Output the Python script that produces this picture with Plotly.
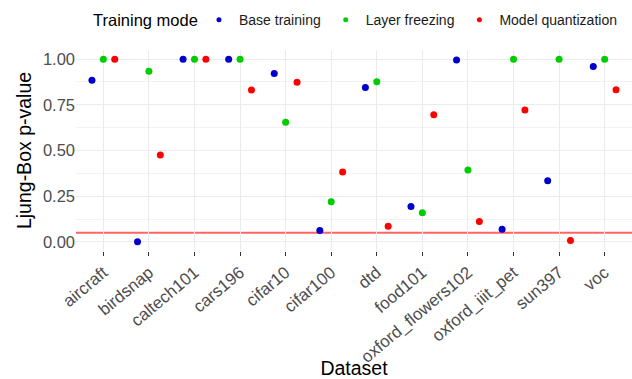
import plotly.graph_objects as go

datasets = ["aircraft", "birdsnap", "caltech101", "cars196", "cifar10", "cifar100",
            "dtd", "food101", "oxford_flowers102", "oxford_iiit_pet", "sun397", "voc"]
base_training = [0.885, 0.0, 1.0, 1.0, 0.922, 0.062, 0.845, 0.193, 0.995, 0.069, 0.335, 0.96]
layer_freezing = [1.0, 0.934, 1.0, 1.0, 0.654, 0.219, 0.876, 0.159, 0.393, 1.0, 1.0, 1.0]
model_quantization = [1.0, 0.475, 1.0, 0.831, 0.873, 0.383, 0.086, 0.696, 0.111, 0.721, 0.008, 0.833]
threshold = 0.05

series = [("Base training", base_training, "#0000CD"),
          ("Layer freezing", layer_freezing, "#00CD00"),
          ("Model quantization", model_quantization, "#FF0000")]

fig = go.Figure()
for name, vals, col in series:
    fig.add_trace(go.Scatter(x=datasets, y=vals, mode="markers", name=name,
                             legendgroup=name, showlegend=False, offsetgroup=name,
                             marker=dict(color=col, size=7, line=dict(width=0))))
for name, vals, col in series:
    fig.add_trace(go.Scatter(x=[None], y=[None], mode="markers", name=name,
                             legendgroup=name, showlegend=True, offsetgroup=name,
                             marker=dict(color=col, size=5, line=dict(width=0))))

fig.add_shape(type="line", xref="paper", x0=0, x1=1, yref="y", y0=threshold, y1=threshold,
              line=dict(color="#FF6464", width=2), layer="below")

fig.add_annotation(text="Training mode", xref="paper", yref="paper", x=0.027, y=1.149,
                   xanchor="left", yanchor="middle", showarrow=False,
                   font=dict(size=16.5, color="#000000"))

font = "Liberation Sans, Arial, sans-serif"
fig.update_layout(
    width=632, height=379,
    margin=dict(l=76, r=0, t=50, b=128, autoexpand=False),
    paper_bgcolor="white", plot_bgcolor="white",
    font=dict(family=font, color="#000000"),
    scattermode="group", scattergap=0.25,
    showlegend=True,
    legend=dict(orientation="h", x=0.2212, xanchor="left", y=1.149, yanchor="middle",
                font=dict(size=14, color="#1A1A1A"), itemwidth=30, bgcolor="rgba(0,0,0,0)"),
    xaxis=dict(type="category", categoryorder="array", categoryarray=datasets,
               range=[-0.6, 11.6], showgrid=True, gridcolor="#EBEBEB", gridwidth=1,
               ticks="outside", ticklen=4, tickcolor="#333333", tickwidth=1,
               tickangle=-40, tickfont=dict(size=17, color="#4D4D4D"), automargin=False,
               title=dict(text="Dataset", font=dict(size=19.5, color="#000000"), standoff=2),
               zeroline=False, showline=False),
    yaxis=dict(range=[-0.05, 1.05], tickvals=[0, 0.25, 0.5, 0.75, 1.0],
               ticktext=["0.00", "0.25", "0.50", "0.75", "1.00"],
               showgrid=True, gridcolor="#EBEBEB", gridwidth=1.2,
               minor=dict(tickvals=[0.125, 0.375, 0.625, 0.875], showgrid=True,
                          gridcolor="#F2F2F2", gridwidth=0.6),
               ticks="", tickfont=dict(size=16.5, color="#4D4D4D"), automargin=False,
               title=dict(text="Ljung-Box p-value", font=dict(size=19.5, color="#000000"), standoff=6),
               zeroline=False, showline=False),
)

fig.write_html("out.html")
